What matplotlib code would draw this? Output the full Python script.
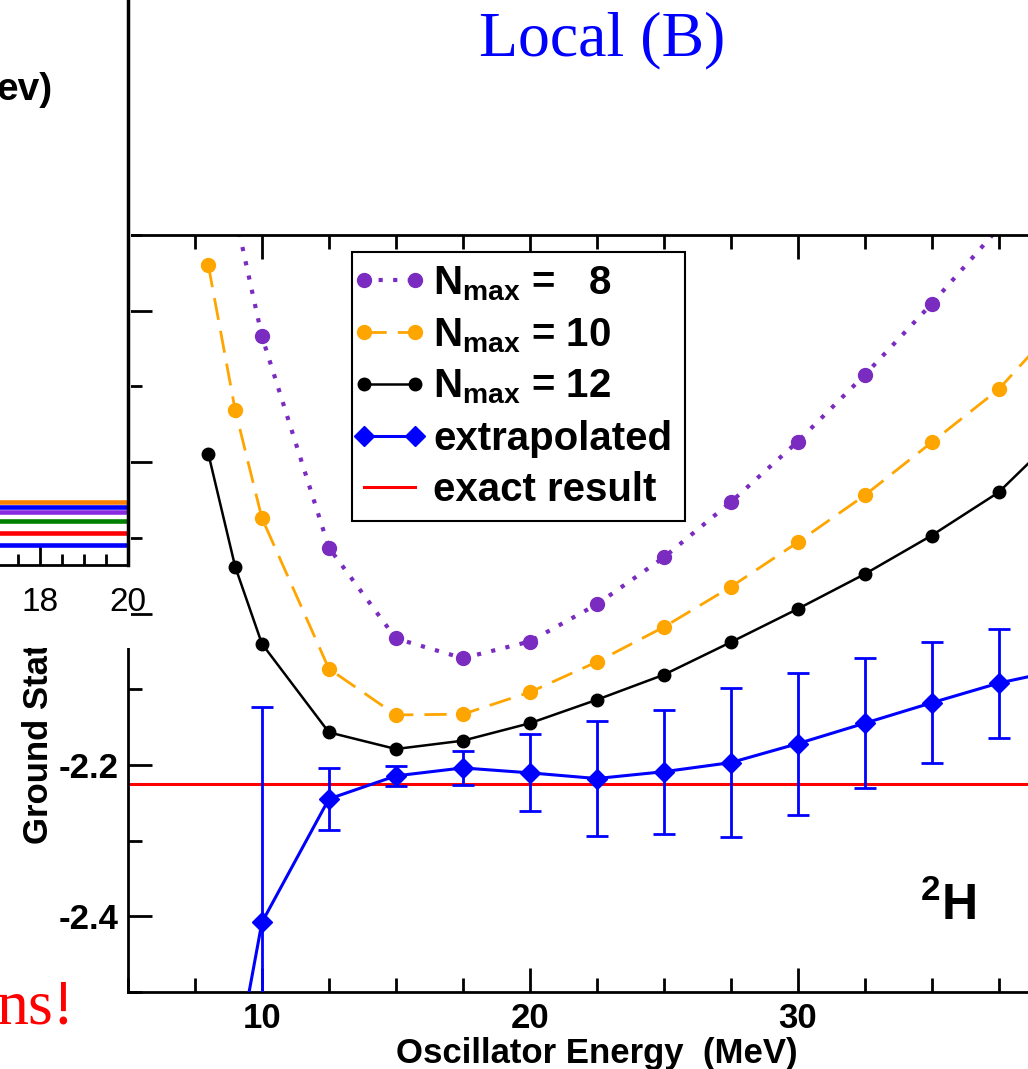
import matplotlib
matplotlib.use("Agg")
import matplotlib.pyplot as plt
from matplotlib.patches import Rectangle
from matplotlib.lines import Line2D
from matplotlib.legend_handler import HandlerLine2D
from matplotlib.ticker import MultipleLocator

plt.rcParams['font.family'] = ['Liberation Sans', 'DejaVu Sans']
plt.rcParams['font.weight'] = 'bold'
plt.rcParams['axes.labelweight'] = 'bold'
plt.rcParams['mathtext.fontset'] = 'custom'
plt.rcParams['mathtext.rm'] = 'Liberation Sans:bold'
plt.rcParams['mathtext.bf'] = 'Liberation Sans:bold'
plt.rcParams['mathtext.default'] = 'bf'

W, H = 1028, 1069

# oscillator energies (MeV) and ground state energies (MeV)
hw = [8, 9, 10, 12.5, 15, 17.5, 20, 22.5, 25, 27.5, 30, 32.5, 35, 37.5, 40]
e_n8 = [-1.25, -1.472, -1.634, -1.913, -2.033, -2.059, -2.037, -1.988,
        -1.926, -1.853, -1.773, -1.685, -1.591, -1.491, -1.39]
e_n10 = [-1.540, -1.731, -1.874, -2.073, -2.134, -2.133, -2.104, -2.064,
         -2.018, -1.965, -1.906, -1.844, -1.774, -1.704, -1.607]
e_n12 = [-1.789, -1.938, -2.040, -2.157, -2.179, -2.168, -2.145, -2.114,
         -2.081, -2.038, -1.994, -1.948, -1.897, -1.840, -1.754]
hw_ext = [9, 10, 12.5, 15, 17.5, 20, 22.5, 25, 27.5, 30, 32.5, 35, 37.5, 40]
e_ext = [-2.60, -2.408, -2.245, -2.2145, -2.204, -2.2105, -2.218, -2.209,
         -2.197, -2.172, -2.145, -2.118, -2.092, -2.073]
err_ext = [0.08, 0.284, 0.041, 0.013, 0.023, 0.051, 0.076, 0.082,
           0.098, 0.094, 0.086, 0.080, 0.072, 0.065]
e_exact = -2.2246

# levels of the small panel behind
levels = [-24.1, -24.4, -24.75, -25.3, -26.0, -26.75]
level_colors = ['#ff8000', '#0000ff', '#8a2be2', '#008000', '#ff0000', '#0000ff']


def px_axes(fig, l, t, r, b):
    return fig.add_axes([l / W, 1 - b / H, (r - l) / W, (b - t) / H])


fig = plt.figure(figsize=(W / 100, H / 100), dpi=100)

ax = px_axes(fig, 128, 235, 1065.5, 992)
ax.axhline(e_exact, color='red', lw=2.2, zorder=1, label='exact result')
ax.plot(hw, e_n8, color='#7a2cc0', ls=(0, (1, 2.5)), lw=3, marker='o', ms=10,
        label=r'$N_{max}$ =   8', zorder=2)
ax.plot(hw, e_n10, color='#ffa500', ls=(0, (8, 4)), lw=2, marker='o', ms=10,
        label=r'$N_{max}$ = 10', zorder=3)
ax.plot(hw, e_n12, color='black', lw=1.8, marker='o', ms=9,
        label=r'$N_{max}$ = 12', zorder=4)
ax.errorbar(hw_ext, e_ext, yerr=err_ext, fmt='none', ecolor='blue',
            elinewidth=2, capsize=8, capthick=2, zorder=5)
ax.plot(hw_ext, e_ext, color='blue', lw=2.2, marker='D', ms=10,
        label='extrapolated', zorder=6)

ax.set_xlim(5, 40)
ax.set_ylim(-2.5, -1.5)
ax.set_xticks([10, 20, 30])
ax.xaxis.set_minor_locator(MultipleLocator(2.5))
ax.yaxis.set_major_locator(MultipleLocator(0.2))
ax.yaxis.set_minor_locator(MultipleLocator(0.1))
ax.yaxis.set_major_formatter(lambda v, pos: '%.1f' % v)
ax.tick_params(which='both', direction='in', top=True, right=True, width=2,
               labelsize=25, pad=7)
ax.tick_params(which='major', length=17)
ax.tick_params(which='minor', length=10)
for s in ax.spines.values():
    s.set_linewidth(2)
ax.set_xlabel('Oscillator Energy  (MeV)', fontsize=25, labelpad=2)
ax.set_ylabel('Ground State Energy  (MeV)', fontsize=25, labelpad=2)

handles, labels = ax.get_legend_handles_labels()
order = [1, 2, 3, 4, 0]
leg = ax.legend([handles[i] for i in order], [labels[i] for i in order],
                loc='upper left', bbox_to_anchor=(352 / W, 1 - 252 / H),
                bbox_transform=fig.transFigure, borderaxespad=0,
                fancybox=False, edgecolor='black', framealpha=1,
                handler_map={Line2D: HandlerLine2D(marker_pad=0, numpoints=2)},
                handlelength=1.27, handletextpad=0.45,
                borderpad=0.3, labelspacing=0.33,
                prop=dict(family='Liberation Sans', weight='bold', size=29))
leg.get_frame().set_linewidth(1.5)

fig.text(948 / W, 1 - 920 / H, r'$^{2}$H', fontsize=36, ha='center',
         va='baseline')

# white cut-out with the neighbouring panel on top of it
fig.add_artist(Rectangle((0, 1 - 648 / H), 131 / W, 648 / H,
                         transform=fig.transFigure, facecolor='white',
                         edgecolor='none', zorder=1))
ax2 = px_axes(fig, -136, -50, 128, 565)
ax2.set_zorder(2)
ax2.hlines(levels, 14, 20, colors=level_colors, lw=3.3)
ax2.set_xlim(14, 20)
ax2.set_ylim(-28, 10)
ax2.set_yticks([])
ax2.set_xticks([18, 20])
ax2.xaxis.set_minor_locator(MultipleLocator(0.5))
ax2.tick_params(axis='x', which='both', direction='in', width=2, labelsize=24,
                pad=16)
ax2.tick_params(axis='x', which='major', length=14)
ax2.tick_params(axis='x', which='minor', length=8)
for lab in ax2.get_xticklabels():
    lab.set_fontweight('normal')
ax2.spines['top'].set_visible(False)
ax2.spines['left'].set_visible(False)
ax2.spines['right'].set_linewidth(2.5)
ax2.spines['bottom'].set_linewidth(2)

fig.text(-3 / W, 1 - 100 / H, 'ev)', fontsize=28, va='baseline', zorder=3)
fig.text(602 / W, 1 - 55 / H, 'Local (B)', color='blue', fontsize=46,
         family='Liberation Serif', weight='normal', ha='center',
         va='baseline', zorder=3)
fig.text(-4 / W, 1 - 1023 / H, 'ns!', color='red', fontsize=46,
         family='Liberation Serif', weight='normal', ha='left',
         va='baseline', zorder=3)

fig.savefig('out.png', dpi=100)
